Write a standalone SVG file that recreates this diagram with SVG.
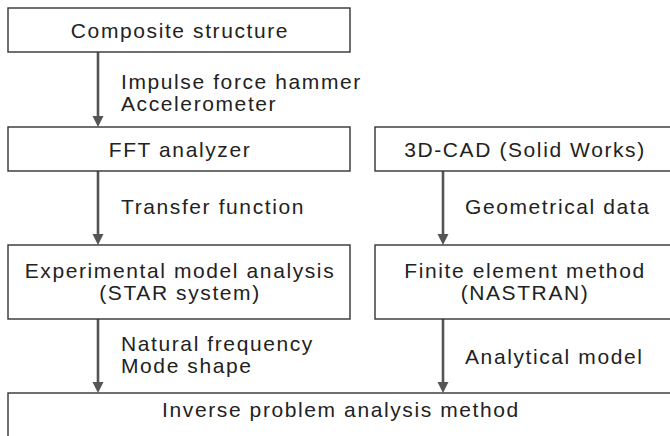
<svg xmlns="http://www.w3.org/2000/svg" width="670" height="436" viewBox="0 0 670 436">
<style>
.box{fill:#fff;stroke:#333;stroke-width:1.4}
.t{font-family:"Liberation Sans",Arial,sans-serif;font-size:21px;letter-spacing:1.6px;fill:#222}
.c{text-anchor:middle}
.conn{stroke:#555;stroke-width:2.6;fill:none}
</style>
<defs>
<marker id="ah" markerUnits="userSpaceOnUse" markerWidth="12" markerHeight="12" refX="0" refY="5.5" orient="auto">
<path d="M0,0 L11,5.5 L0,11 z" fill="#555"/>
</marker>
</defs>
<rect width="670" height="436" fill="#fff"/>
<g id="connectors">
<line class="conn" x1="98" y1="52" x2="98" y2="116" marker-end="url(#ah)"/>
<line class="conn" x1="98" y1="171" x2="98" y2="234" marker-end="url(#ah)"/>
<line class="conn" x1="98" y1="319" x2="98" y2="382" marker-end="url(#ah)"/>
<line class="conn" x1="443" y1="171" x2="443" y2="234" marker-end="url(#ah)"/>
<line class="conn" x1="443" y1="319" x2="443" y2="382" marker-end="url(#ah)"/>
<text class="t" x="121" y="89">Impulse force hammer</text>
<text class="t" x="121" y="111">Accelerometer</text>
<text class="t" x="121" y="214">Transfer function</text>
<text class="t" x="121" y="351">Natural frequency</text>
<text class="t" x="121" y="373">Mode shape</text>
<text class="t" x="465" y="214">Geometrical data</text>
<text class="t" x="465" y="364">Analytical model</text>
</g>
<g id="composite">
<rect class="box" x="8" y="8" width="342" height="44"/>
<text class="t c" x="180" y="38">Composite structure</text>
</g>
<g id="fft">
<rect class="box" x="8" y="127" width="342" height="44"/>
<text class="t c" x="180" y="157">FFT analyzer</text>
</g>
<g id="cad">
<rect class="box" x="375" y="127" width="297" height="44"/>
<text class="t c" x="525" y="157">3D-CAD (Solid Works)</text>
</g>
<g id="experimental">
<rect class="box" x="8" y="245" width="342" height="74"/>
<text class="t c" x="180" y="278">Experimental model analysis</text>
<text class="t c" x="180" y="300">(STAR system)</text>
</g>
<g id="fem">
<rect class="box" x="375" y="245" width="297" height="74"/>
<text class="t c" x="525" y="278">Finite element method</text>
<text class="t c" x="525" y="300">(NASTRAN)</text>
</g>
<g id="inverse">
<rect class="box" x="8" y="393" width="664" height="45"/>
<text class="t c" x="341" y="417">Inverse problem analysis method</text>
</g>
</svg>
